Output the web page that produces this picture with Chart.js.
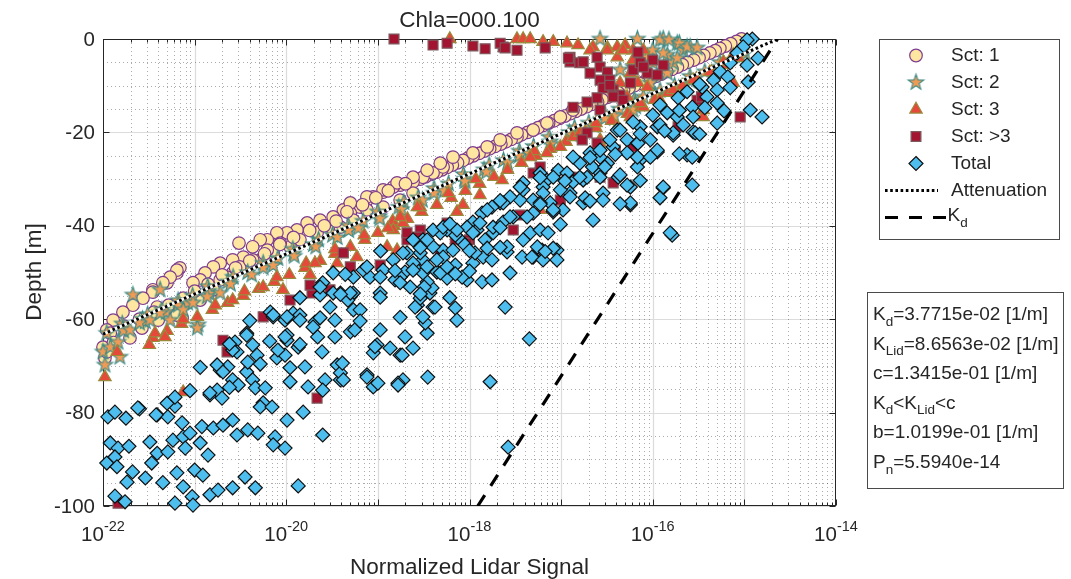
<!DOCTYPE html>
<html><head><meta charset="utf-8">
<script src="https://cdn.jsdelivr.net/npm/chart.js@4/dist/chart.umd.min.js"></script>
<style>html,body{margin:0;padding:0;background:#fff;}#wrap{width:1071px;height:579px;}</style>
</head><body><div id="wrap"><canvas id="c" width="1071" height="579"></canvas></div>
<script>
// ---------------- data ----------------
const chartTitle = 'Chla=000.100';
const xAxisTitle = 'Normalized Lidar Signal';
const yAxisTitle = 'Depth [m]';
const xTickExponents = [-22, -20, -18, -16, -14];
const yTickValues = [0, -20, -40, -60, -80, -100];
const legendLabels = ['Sct: 1', 'Sct: 2', 'Sct: 3', 'Sct: >3', 'Total', 'Attenuation', 'K_d'];

// [signal, depth]
const sct1 = [
[9.3e-16,0],[8.2e-16,-0.5],[7.1e-16,-1],[6.2e-16,-1.5],[5.4e-16,-2],[4.8e-16,-2.5],[4.2e-16,-3],[3.6e-16,-3.5],[3.2e-16,-4],[2.8e-16,-4.5],[2.4e-16,-5],[2.1e-16,-5.5],[1.86e-16,-6],[1.62e-16,-6.5],[1.42e-16,-7],[1.24e-16,-7.5],[1.08e-16,-8],[9.5e-17,-8.5],[8.3e-17,-9],[7.2e-17,-9.5],[6.3e-17,-10],[5.5e-17,-10.5],[4.8e-17,-11],[4.2e-17,-11.5],[3.7e-17,-12],[3.2e-17,-12.5],[2.8e-17,-13],[2.5e-17,-13.5],[2.15e-17,-14],[1.9e-17,-14.5],[1.65e-17,-15],[1.44e-17,-15.5],[1.26e-17,-16],[1.1e-17,-16.5],[9.6e-18,-17],[8.4e-18,-17.5],[7.3e-18,-18],[6.4e-18,-18.5],[5.6e-18,-19],[4.9e-18,-19.5],[4.3e-18,-20],[3.7e-18,-20.5],[3.3e-18,-21],[2.85e-18,-21.5],[2.5e-18,-22],[2.2e-18,-22.5],[1.9e-18,-23],[1.66e-18,-23.5],[1.45e-18,-24],[1.27e-18,-24.5],[1.1e-18,-25],[9.6e-19,-25.5],[8.5e-19,-26],[7.4e-19,-26.5],[6.5e-19,-27],[5.7e-19,-27.5],[5.0e-19,-28],[4.4e-19,-28.5],[3.8e-19,-29],[3.3e-19,-29.5],[2.9e-19,-30],
[5.15e-19,-27.4],[4.0e-19,-28.7],[3.1e-19,-29.6],[2.42e-19,-30.6],[1.75e-19,-31.3],[1.47e-19,-31.7],[1.14e-19,-32.8],[8.9e-20,-33.8],[7.6e-20,-34.5],[6.4e-20,-36],[5.0e-20,-37.3],[4.2e-20,-36.6],[3.25e-20,-38.1],[2.34e-20,-38.8],[1.69e-20,-39.4],[1.31e-20,-40.9],[1.02e-20,-41.5],[7.9e-21,-41.5],[6.2e-21,-43],[5.2e-21,-43],[4.3e-21,-44.5],[3.05e-21,-43.7],[3.4e-21,-46.7],[2.6e-21,-47.3],[1.9e-21,-48],[1.6e-21,-48.8],[1.3e-21,-50.1],[1.15e-21,-51.6],[9.6e-22,-52.2],[6.9e-22,-49],[6.4e-22,-50.1],[5.0e-22,-52.2],[3.5e-22,-53.7],[7.6e-20,-36.6],[1.14e-19,-36],[1.75e-19,-34.5],[2.42e-19,-33],[3.25e-20,-40.9],[2.17e-20,-41.5],[1.41e-20,-43],[3.9e-20,-40.3],[5.4e-20,-38.8],[1.1e-20,-44.5],[7.2e-21,-45.8],[5.2e-21,-47.3],[3.7e-21,-48.8],[2.6e-21,-50.1],[1.9e-21,-51.6],[6.4e-22,-49.5],[5.4e-22,-51],[4.5e-22,-52.2],[3.5e-22,-54.2],[2.73e-22,-55.5],[2.12e-22,-57],[1.65e-22,-58.5],[1.29e-22,-60.2],[1.1e-22,-62.3],[1.05e-22,-68.3],[1.0e-22,-66],[1.97e-22,-64],[2.66e-22,-61.9],[4.0e-22,-60.2],[7.3e-22,-59.7],[6.9e-22,-58],[1.15e-21,-55.9],[1.6e-21,-53.7],[2.26e-21,-51],[3.1e-21,-48.8],[4.3e-21,-47.3],[6.2e-21,-45.2],[8.6e-21,-43.7],[6.4e-22,-59.1],[3.9e-22,-57.4],[5.0e-20,-35.1],[7.6e-20,-33.8],[1.14e-19,-32.3],[1.62e-19,-30.8],[2.42e-19,-29.6],[3.45e-19,-28.1],[4.8e-19,-26.6],[6.6e-19,-25.3],[1.09e-18,-24.4],[1.56e-18,-23.1],[2.16e-18,-21.6],[3.3e-18,-20.1],[4.95e-18,-19.5],[7.0e-18,-18],[9.8e-18,-16.7],[1.35e-17,-15.2],
[2.0e-19,-31],[1.3e-19,-32.5],[9.5e-20,-34],[6.8e-20,-35.5],[4.6e-20,-37],[3.5e-20,-39],[2.6e-20,-40],[1.8e-20,-41],[1.2e-20,-42.5],[8.5e-21,-44],[5.8e-21,-46],[4.0e-21,-47.5],[2.8e-21,-49],[2.0e-21,-50.5],[1.4e-21,-52.5],[1.0e-21,-54],[7.5e-22,-55.5],[5.2e-22,-57],[3.6e-22,-58.5],[2.5e-22,-60],[1.7e-22,-61.5],[1.2e-22,-63],[1.3e-22,-65],[1.1e-22,-67]
];

const sct2 = [
[1.02e-15,-3],[9.0e-16,-4],[5.4e-16,-5],[5.5e-16,-6],[3.7e-16,-7],[2.55e-16,-8],[2.56e-16,-9],[1.73e-16,-10],[1.2e-16,-11],[1.06e-16,-12],[6.3e-17,-13],[6.4e-17,-14],[4.3e-17,-15],[3.0e-17,-16],[3.0e-17,-17],[2.0e-17,-18],[1.4e-17,-19],[1.23e-17,-20],[7.4e-18,-21],[7.6e-18,-22],[5.0e-18,-23],[3.5e-18,-24],[3.5e-18,-25],[2.35e-18,-26],[1.64e-18,-27],[1.44e-18,-28],[8.6e-19,-29],[8.8e-19,-30],[5.9e-19,-31],[4.1e-19,-32],[4.1e-19,-33],[2.75e-19,-34],[1.92e-19,-35],[1.69e-19,-36],[1.0e-19,-37],[1.03e-19,-38],[6.9e-20,-39],[4.75e-20,-40],[4.8e-20,-41],[3.2e-20,-42],[2.25e-20,-43],[1.98e-20,-44],[1.18e-20,-45],[1.2e-20,-46],[8.1e-21,-47],[5.6e-21,-48],[5.6e-21,-49],[3.8e-21,-50],[2.63e-21,-51],[2.3e-21,-52],[1.39e-21,-53],[1.42e-21,-54],[9.5e-22,-55],[6.6e-22,-56],[6.6e-22,-57],[4.4e-22,-58],[3.07e-22,-59],[2.7e-22,-60],[1.62e-22,-61],[1.64e-22,-62],[1.1e-22,-63],
[1.92e-16,-10.5],[1.13e-16,-12.5],[6.5e-17,-14.5],[3.8e-17,-16.5],[2.24e-17,-18.5],[1.31e-17,-20.5],[7.7e-18,-22.5],[4.5e-18,-24.5],[2.6e-18,-26.5],[1.53e-18,-28.5],[8.9e-19,-30.5],[5.3e-19,-32.5],[3.06e-19,-34.5],[1.8e-19,-36.5],[1.05e-19,-38.5],[6.1e-20,-40.5],[3.6e-20,-42.5],[2.1e-20,-44.5],[1.22e-20,-46.5],[7.2e-21,-48.5],[4.2e-21,-50.5],[2.46e-21,-52.5],[1.44e-21,-54.5],[8.4e-22,-56.5],[4.9e-22,-58.5],[2.9e-22,-60.5],[1.68e-22,-62.5],
[1.0e-22,-67],[1.2e-22,-66],[1.46e-22,-64.9],[1.97e-22,-62.3],[2.5e-22,-60.8],[3.25e-22,-60.2],[4.2e-22,-58.7],[5.4e-22,-60.2],[7.5e-22,-58],[1.09e-21,-61.2],[9.6e-22,-56.5],[1.37e-21,-55.2],[1.9e-21,-54.4],[2.12e-22,-54.8],[4.2e-22,-53.7],[1.07e-21,-61.9],[1.05e-22,-69.8],[1.53e-22,-68.1],
[2.66e-17,0],[6.8e-17,0],[1.3e-16,0],[1.85e-16,-0.9],[2.15e-16,-2.4],[2.56e-16,-1.7],[1.0e-16,-2.4],[8.7e-17,-3.9],[1.44e-16,-3.4],[1.67e-16,-5.1],[6.1e-17,-6],[4.4e-17,-6.6],[1.2e-16,-0.2],[1.5e-16,-0.2],[1.95e-16,-0.9],[2.37e-16,-1.7],[3.05e-16,-1.9],[1.3e-16,-3],[1.85e-16,-4.1],[1.0e-16,-5.1],[1.44e-16,-7.3],[9.4e-17,-9.4],[7.9e-17,-12.4],[6.1e-17,-15.2]
];

const sct3 = [
[8.6e-16,-4],[6.3e-16,-5.5],[4.4e-16,-7],[3.0e-16,-8.5],[2.1e-16,-10],[1.47e-16,-11.5],[1.05e-16,-13],[7.5e-17,-14.5],[5.3e-17,-16],[3.55e-17,-17.5],[2.4e-17,-19],[1.6e-17,-20.5],[1.13e-17,-22],[7.6e-18,-23.5],[5.3e-18,-25],[3.7e-18,-26.5],[2.6e-18,-28],[1.85e-18,-29.5],[1.29e-18,-31],[9.0e-19,-32.5],[6.3e-19,-34],[4.4e-19,-35.5],[3.0e-19,-37],[2.1e-19,-38.5],[1.5e-19,-40],[1.0e-19,-41.5],[7.2e-20,-43],[5.0e-20,-44.5],[3.4e-20,-46],[2.35e-20,-47.5],[1.6e-20,-49],[1.08e-20,-50.5],[7.4e-21,-52],[5.0e-21,-53.5],[3.4e-21,-55],[2.3e-21,-56.5],[1.56e-21,-58],[1.07e-21,-59.5],[7.2e-22,-61],[5.0e-22,-62.5],[3.5e-22,-64],[3.2e-22,-65.5],[1.43e-22,-67],
[2.4e-17,-18],[5.1e-18,-24],[1.17e-18,-30],[2.9e-19,-36],[7.1e-20,-42],[1.65e-20,-48],[3.5e-21,-54],[7.5e-22,-60],[5.9e-19,-33],[1.45e-19,-39],[3.4e-20,-45],[7.9e-21,-51],[1.68e-21,-57],[3.7e-22,-63],
[1.05e-22,-72.4],[7.5e-22,-75.6],[4.75e-22,-63.8],[2.6e-21,-55.9],[1.82e-20,-50.5],[2.06e-20,-48],[3.6e-20,-48],[5.9e-20,-46.7],[1.26e-19,-44.5],[1.88e-19,-39.4],[1.62e-19,-45.2],[1.47e-19,-40.9],[9.2e-21,-53.7],[5.6e-21,-53.1],[2.27e-18,-30.2],[1.3e-18,-33.4],[8.5e-19,-35.5],[5.9e-18,-36.6],[1.29e-19,-40.5],[1.75e-19,-38.1],[7.3e-19,-37],[2.7e-19,-36],[4.6e-18,-25.3],[7.0e-18,-24.4],[9.8e-18,-23.1],[1.35e-17,-21],[1.6e-17,-20.1],[1.83e-17,-19.9],[2.66e-17,-22.3],[4.1e-17,-18.8],[5.7e-17,-16.7],[7.9e-17,-14.6],[1.2e-16,-13.1],[1.67e-16,-10.9],[2.76e-16,-8.8],[4.2e-16,-7.1],[5.9e-16,-4.9],[7.55e-16,-3.4],[9.7e-16,-1.7],[7.55e-16,-9.4],[3.55e-16,-15.2],[2.47e-17,-23.3],
[6.1e-19,0],[3.3e-18,0],[3.85e-18,0],[4.6e-18,0],[6.35e-18,-0.6],[8.2e-18,-0.6],[1.16e-17,-0.9],[1.53e-17,-1.3],[2.23e-17,-1.7],[3.2e-17,-1.9],[4.1e-17,-1.7],[5.0e-17,-1.3],[6.1e-17,-2.4],[7.9e-17,-2.4],
[2.07e-17,-2.4],[3.2e-17,-2.4],[4.1e-17,-3.9],[4.75e-17,-2.4],[6.1e-17,-4.5],[7.3e-17,-5.1],[5.7e-17,-7.3],[6.9e-17,-9.4],[4.4e-17,-9.4],[5.25e-17,-12.4],[7.3e-17,-13.7],[8.7e-17,-10.3],[2.66e-17,-21.6],[3.55e-16,-16.7]
];

const sctMore = [
[1.5e-19,0],[4.0e-19,-1.3],[5.7e-19,-0.9],[1.09e-18,-1.5],[1.48e-18,-2.1],[2.33e-18,-1.7],[3.3e-18,-2.4],[6.7e-18,-1.9],[1.25e-17,-3.9],[1.25e-17,-4.9],[1.6e-17,-5.1],[2.16e-18,-0.9],[2.45e-18,-1.9],[1.2e-17,-4.1],[2.47e-17,-3.9],[2.66e-17,-6],[3.2e-17,-7.1],[2.66e-17,-8.8],[3.4e-17,-8.8],[2.87e-17,-10.5],[3.7e-17,-10.9],[4.4e-17,-12],[5.7e-17,-9.4],[6.1e-17,-6.6],[7.3e-17,-5.1],[8.7e-17,-7.3],[1.0e-16,-4.5],[1.3e-16,-5.6],[1.35e-17,-14.6],[9.0e-16,-16.7],[3.05e-16,-13.1],[1.92e-17,-20.1],[2.47e-17,-22.3],[1.25e-17,-29.6],[1.74e-17,-4.9],[3.4e-17,-9.9],[3.7e-17,-12.4],[2.47e-17,-12.6],[1.92e-17,-13.5],[4.75e-17,-13.1],[2.07e-17,-7.3],[6.9e-17,-2.8],[1.12e-16,-7.7],[7.9e-17,-6],[1.89e-16,-18.8],[3.4e-16,-12.4],[1.7e-17,-21.6],[2.66e-17,-29.6],[3.7e-17,-30.8],[6.1e-17,-23.1],
[2.04e-21,-64.5],[5.6e-21,-59.5],[1.91e-20,-54.4],[1.82e-20,-52.7],[2.08e-19,-43],[2.9e-19,-40.9],[5.7e-19,-39.4],[2.08e-19,-41.5],[2.7e-19,-42.4],[1.0e-18,-43],[3.0e-18,-40.9],[4.95e-18,-28.7],[5.9e-18,-27.4],[1.5e-17,-29.6],[5.0e-20,-48.8],[1.06e-19,-48.4],[4.8e-19,-45.2],[9.4e-19,-43.7],[2.26e-21,-67],[4.2e-20,-45.8],[1.46e-22,-99.4],[2.17e-20,-76.9],
[7.0e-19,-43],[3.57e-18,-37.7],[9.8e-18,-34.5],[3.0e-20,-53.7],[1.1e-20,-55.9],[2.66e-17,-15.2],[3.9e-17,-23.8]
];

const total = [
[1.13e-22,-80.9],[1.35e-22,-79.9],[1.78e-22,-81.2],[2.5e-22,-79.2],[3.9e-22,-80.5],[5.1e-22,-80.9],[6.1e-22,-78.6],[1.2e-22,-86.5],[1.46e-22,-87.6],[1.92e-22,-87.2],[1.1e-22,-90.8],[1.35e-22,-89.5],[1.42e-22,-91.6],[2.1e-22,-92.7],[1.83e-22,-94.9],[1.35e-22,-97.9],[1.74e-22,-99.1],[2.9e-22,-94],[3.25e-22,-86.3],[3.4e-22,-90.8],[3.9e-22,-88.7],[4.5e-22,-95],[5.1e-22,-88.4],[5.8e-22,-85.9],[6.4e-22,-92.9],[6.1e-22,-99.4],[7.3e-22,-82.2],[7.5e-22,-85.2],[7.5e-22,-95.9],[7.9e-22,-87.6],[8.9e-22,-84.4],[9.4e-22,-98],[9.6e-22,-99.8],[1.0e-21,-92.3],[1.2e-21,-83],[1.15e-21,-86.5],[1.23e-21,-93.4],[1.4e-21,-89.1],[1.47e-21,-97.6],[1.6e-21,-83.3],[1.8e-21,-96.6],[2.04e-21,-82.7],[2.6e-21,-81.6],[2.9e-21,-84.8],[2.6e-21,-96.1],[3.55e-21,-93.8],[3.8e-21,-83.7],[4.6e-21,-96.1],[4.9e-21,-84.4],[7.55e-21,-85.2],[7.2e-21,-86.9],[9.7e-21,-87.6],[1.02e-20,-81.6],[1.53e-20,-79.9],[1.35e-20,-95.7],[2.5e-20,-84.8],
[1.47e-21,-76.2],[1.76e-21,-75.2],[1.99e-21,-76.9],[1.9e-21,-70.9],[2.3e-21,-70.2],[2.6e-21,-73],[3.0e-21,-74.1],[3.7e-21,-71.3],[3.8e-21,-69.2],[4.3e-21,-73],[4.6e-21,-74.7],[5.9e-21,-74.7],[5.6e-21,-77.9],[5.2e-21,-78.8],[7.0e-21,-78.8],[2.76e-21,-64.9],[3.7e-21,-63],[2.9e-21,-67],[4.8e-21,-67.7],[7.9e-21,-68.3],[9.7e-21,-67.7],[8.1e-21,-66.6],[1.02e-20,-63.4],[9.7e-21,-60.2],[1.19e-20,-58.7],[7.2e-21,-59.5],[6.7e-21,-58.5],[1.02e-20,-64.5],[1.35e-20,-66],[1.41e-20,-59.1],[1.6e-20,-70.2],[1.73e-20,-74.5],[1.1e-20,-73.4],[2.06e-20,-60.6],[2.2e-20,-63.8],[2.46e-20,-67],[2.65e-20,-73],[2.5e-20,-75.2],[3.6e-20,-69.8],[3.9e-20,-73],[3.4e-20,-63.8],[5.0e-20,-62.7],[5.4e-20,-58],[5.0e-20,-55.2],[7.6e-20,-71.9],[8.9e-20,-74.5],[1.06e-19,-62.3],[9.8e-20,-65.5],[1.36e-19,-66.2],[1.75e-19,-67.7],[1.88e-19,-73],[1.66e-19,-73.7],[2.42e-19,-66.2],[1.98e-19,-63.8],[3.5e-19,-72.4],[3.45e-19,-63],[2.7e-19,-57],[3.7e-19,-54.4],[4.0e-19,-57.4],
[2.4e-22,-79],[5.0e-22,-78],[6.1e-22,-76.7],[3.8e-22,-80.5],[1.47e-21,-75.8],[1.76e-21,-69.8],[2.04e-21,-71.3],[2.6e-21,-66.6],[3.7e-21,-63.4],[4.3e-21,-65.5],[7.2e-21,-59.1],[1.02e-20,-59.5],[1.41e-20,-60.2],[9.7e-21,-63.8],[1.96e-20,-61.7],[2.5e-20,-52.2],[3.0e-20,-57.4],[3.4e-20,-60.2],[2.34e-20,-54.8],[3.9e-20,-54.4],[3.9e-20,-71.5],
[5.15e-19,-45.2],[3.1e-19,-47.3],[2.55e-19,-49],[1.98e-19,-49.9],[1.75e-19,-51],[1.54e-19,-51.6],[1.14e-19,-49.5],[6.9e-20,-49.5],[8.2e-20,-51],[5.4e-20,-54.4],[4.7e-20,-55.9],[6.4e-20,-58],[5.6e-20,-62.3],[4.2e-20,-73],[4.1e-20,-69.4],[7.6e-20,-72.4],[1.0e-19,-73.7],[8.9e-20,-67.2],[9.3e-20,-65.9],[1.84e-19,-67.7],[1.66e-19,-74.1],[3.3e-19,-60.8],[3.1e-19,-59.5],[2.55e-19,-57.4],[2.9e-19,-55.5],[4.2e-19,-57.4],[3.9e-19,-53.3],[3.45e-19,-52],[4.4e-19,-49.9],[5.7e-19,-51.2],[7.0e-19,-48.4],[7.0e-19,-57.6],[7.3e-19,-60.2],[9.4e-19,-51.6],[8.3e-19,-51],[1.09e-18,-48],[1.41e-18,-46.7],[1.76e-18,-47.3],[1.37e-18,-52],[1.76e-18,-51.6],[2.57e-18,-45.6],[2.77e-18,-50.1],[2.45e-18,-57.4],[3.75e-18,-46.7],[4.95e-18,-46.7],[6.2e-18,-45.2],[9.0e-18,-45.2],[4.5e-18,-64.2],[1.68e-18,-73.4],[2.64e-18,-87.4],
[1.22e-15,0],[1.07e-15,-0.2],[9.7e-16,-1.7],[8.3e-16,-3],[1.41e-15,-4.1],[7.0e-16,-5.1],[1.07e-15,-5.6],[5.45e-16,-7],[6.6e-16,-8.1],[4.6e-16,-8.8],[1.1e-15,-9.2],[3.46e-16,-10.3],[5.05e-16,-10.9],[2.37e-16,-11.3],[3.9e-16,-12.4],[1.89e-16,-12.6],[5.05e-16,-13.7],[2.7e-16,-14.6],[1.16e-15,-15.2],[1.56e-15,-16.7],[1.2e-16,-14.1],[1.44e-16,-15.8],[1.85e-16,-16.7],[1.0e-16,-16.3],[2.76e-16,-16.7],[2.15e-16,-18.4],[2.76e-16,-19.9],[1.67e-16,-20.6],[1.12e-16,-18.8],[9.4e-17,-21.6],[7.3e-17,-18.8],[6.1e-17,-17.8],[4.1e-17,-19.5],[5.25e-17,-21.6],[3.7e-17,-23.1],[6.8e-17,-22.3],[5.25e-17,-24.4],[7.3e-17,-25.9],[1.12e-16,-24.2],[6.8e-17,-27.4],[2.37e-16,-24.8],[2.7e-16,-31.3],[1.3e-16,-31.9],[1.2e-16,-34],[5.7e-17,-31.7],[5.7e-17,-35.5],[1.63e-16,-42],[4.2e-17,-29.6],[3.2e-17,-26.6],[2.66e-17,-25.3],[2.66e-17,-28.7],[2.07e-17,-24.4],[2.2e-17,-27.4],[1.6e-17,-26.6],[1.35e-17,-25.3],[1.74e-17,-30.2],[1.35e-17,-30.6],[2.87e-17,-33],[1.74e-17,-35.1],[2.23e-17,-38.8],[1.25e-17,-33],[9.8e-18,-32.3],[1.05e-17,-36.6],[8.2e-18,-37],[7.6e-18,-35.1],[7.0e-18,-30.2],[5.9e-18,-28.7],[9.3e-18,-28.1],[1.16e-17,-28.7],[6.35e-18,-31.7],[4.95e-18,-37.3],[4.6e-18,-41.5],[3.85e-18,-30.8],[3.57e-18,-34.5],[3.85e-18,-32.3],[2.77e-18,-33.8],[2.16e-18,-35.1],[1.76e-18,-36],[3.0e-18,-38.1],[2.33e-18,-39.2],[1.81e-18,-41.5],[1.48e-18,-43],[1.37e-18,-37.3],[1.09e-18,-39.2],[1.21e-18,-40.9],[9.4e-19,-40.3],[7.9e-19,-43],[7.0e-19,-42],[5.7e-19,-40.9],[6.6e-19,-45.2],[5.15e-19,-46.7],[4.0e-19,-44.5],[3.1e-19,-43],[2.9e-19,-45.8],[2.42e-19,-48],[2.08e-19,-45.8],[2.25e-19,-53.1],[3.1e-19,-50.1],[4.8e-19,-50.1],[5.7e-19,-48.8],[8.9e-19,-44.1],[1.15e-18,-45.8],[1.56e-18,-44.8],[2.57e-18,-44.5],[3.85e-18,-43],[4.8e-18,-46.7],[5.5e-18,-44.5],[8.2e-18,-44.8],[6.35e-18,-47.3],[9.0e-18,-47.3],[5.9e-18,-40.9],[7.2e-18,-41.5],[3.2e-19,-53.1],
[1.55e-16,-41.5],[1.3e-16,-31.7],[2.7e-16,-25.3],[5.7e-17,-35.1],[6.8e-17,-25.3],[5.05e-16,-18],[2.9e-16,-20.1],[1.67e-16,-20.1],[1.2e-16,-18.4],[1.12e-16,-23.8],[6.9e-17,-22.3],[4.4e-17,-19.5],[3.4e-17,-21.6],[2.66e-17,-23.8],[1.92e-17,-29.6],[3.0e-17,-27.4],[4.4e-17,-29.1],[5.25e-17,-31.3],[2.87e-17,-34.5],[1.83e-17,-34],
[8.2e-18,-29.6],[6.35e-18,-33],[4.95e-18,-34.5],[3.57e-18,-31.7],[2.33e-18,-35.1],[1.56e-18,-36.6],[1.3e-18,-39.4],[1.09e-18,-41.5],[7.3e-19,-40.9],[4.8e-19,-41.5],[3.45e-19,-43],[1.81e-18,-40.3],[2.77e-18,-38.1],[4.25e-18,-38.1],[5.9e-18,-35.1],[8.2e-18,-36.6],[1.25e-17,-33.8],[1.6e-17,-29.6],
[2.34e-20,-53.1],[3.25e-20,-54.4],[5.4e-20,-51],[7.6e-20,-48.8],[1.06e-19,-51],[1.47e-19,-47.3],[1.88e-19,-45.8],[2.42e-19,-43],[4.0e-19,-40.9],[5.15e-19,-40.3],[3.45e-19,-48.8],[4.4e-19,-47.3],[2.42e-19,-49.5],[1.75e-19,-52.2],[1.06e-19,-54.4],[5.0e-20,-54.4],[3.25e-20,-50.1],
[4.4e-20,-50.4],[1.54e-19,-49.6],[7.0e-19,-50.3],[1.0e-18,-49.7],[1.07e-19,-45.4],[2.9e-19,-44.7],[1.0e-18,-45.3],[2.16e-18,-44.6],[6.7e-18,-45.5],[6.1e-19,-39.6],[2.16e-18,-40.4],[9.8e-18,-39.7],[2.16e-18,-34.6],[5.9e-18,-35.4],[2.07e-17,-34.7],[4.4e-17,-35.3],[5.9e-18,-29.7],[1.1e-17,-30.4],[2.66e-17,-29.6],[7.3e-17,-30.3],[2.07e-17,-25.4],[3.9e-17,-24.7],[9.4e-17,-25.3],[1.95e-16,-24.6],[7.3e-17,-20.3],[1.35e-16,-19.7],[3.25e-16,-20.4],[1.95e-16,-15.3],[3.7e-16,-14.7],[6.0e-16,-15.4],[3.25e-16,-9.7],[7.0e-16,-10.4],[1.41e-20,-55.4],[3.9e-20,-54.7],[1.06e-19,-55.3],[2.9e-19,-54.6],[6.1e-19,-55.4],[4.0e-21,-60.3],[2.34e-20,-59.7],[6.4e-20,-60.4],[1.75e-19,-59.6],[2.4e-21,-65.3],[6.6e-21,-64.7],[1.41e-20,-65.4],[1.15e-21,-70.3],[5.2e-21,-69.6],[1.1e-20,-70.4],[8.9e-22,-75.3],[2.4e-21,-74.6]
];

const attenuation = [[1e-22, -63.2], [2.3e-15, 0]];
const kdLine = [[1.23e-18, -100], [2.3e-15, 0]];

const infoLines = [
  [['K'], ['d', 'sub'], ['=3.7715e-02 [1/m]']],
  [['K'], ['Lid', 'sub'], ['=8.6563e-02 [1/m]']],
  [['c=1.3415e-01 [1/m]']],
  [['K'], ['d', 'sub'], ['<K'], ['Lid', 'sub'], ['<c']],
  [['b=1.0199e-01 [1/m]']],
  [['P'], ['n', 'sub'], ['=5.5940e-14']]
];

// ---------------- styles ----------------
const FONT = '"Liberation Sans", Arial, Helvetica, sans-serif';
const INK = '#262626';
const st = {
  c1: { fill: '#FFE6A1', edge: '#7E3C8E' },
  c2: { fill: '#EF9A55', edge: '#3B8C88' },
  c3: { fill: '#E5493A', edge: '#9A8A3C' },
  c4: { fill: '#A2142F', edge: '#7D5A5E' },
  c5: { fill: '#4DBEEE', edge: '#111111' }
};

function makeStar(R, fill, edge) {
  const s = Math.ceil(R * 2 + 4);
  const cv = document.createElement('canvas');
  cv.width = s; cv.height = s;
  const g = cv.getContext('2d');
  g.beginPath();
  for (let i = 0; i < 10; i++) {
    const r = i % 2 ? R * 0.40 : R;
    const a = -Math.PI / 2 + i * Math.PI / 5;
    g.lineTo(s / 2 + r * Math.cos(a), s / 2 + r * Math.sin(a));
  }
  g.closePath();
  g.fillStyle = fill; g.fill();
  g.lineWidth = 1.1; g.strokeStyle = edge; g.stroke();
  return cv;
}
const starImg = makeStar(8.2, st.c2.fill, st.c2.edge);

const toXY = arr => arr.map(p => ({ x: p[0], y: p[1] }));

function scatterSet(label, arr, style, shape, r, order) {
  return {
    label, data: toXY(arr), order, clip: false,
    pointStyle: shape, pointRadius: r, pointHoverRadius: r,
    backgroundColor: style.fill, borderColor: style.edge, pointBorderWidth: 1.2, borderWidth: 1.2,
    showLine: false
  };
}

// ---------------- drawing helpers ----------------
function drawParts(ctx, x, y, parts, size, subSize, drop) {
  let cx = x;
  for (const p of parts) {
    const sub = p[1] === 'sub';
    ctx.font = (sub ? subSize : size) + 'px ' + FONT;
    ctx.fillText(p[0], cx, y + (sub ? drop : 0));
    cx += ctx.measureText(p[0]).width;
  }
}

function legendMarker(ctx, kind, x, y) {
  ctx.save();
  ctx.lineWidth = 1.2;
  if (kind === 'star') { ctx.drawImage(starImg, x - starImg.width / 2, y - starImg.height / 2); ctx.restore(); return; }
  ctx.beginPath();
  let s;
  if (kind === 'circle') { s = st.c1; ctx.arc(x, y, 6.3, 0, Math.PI * 2); }
  if (kind === 'triangle') { s = st.c3; const r = 7.2; ctx.moveTo(x, y - r); ctx.lineTo(x + r * Math.sin(2.0944), y - r * Math.cos(2.0944)); ctx.lineTo(x + r * Math.sin(4.1888), y - r * Math.cos(4.1888)); ctx.closePath(); }
  if (kind === 'square') { s = st.c4; const h = 4.9; ctx.rect(x - h, y - h, 2 * h, 2 * h); }
  if (kind === 'diamond') { s = st.c5; const r = 7; ctx.moveTo(x, y - r); ctx.lineTo(x + r, y); ctx.lineTo(x, y + r); ctx.lineTo(x - r, y); ctx.closePath(); }
  ctx.fillStyle = s.fill; ctx.fill(); ctx.strokeStyle = s.edge; ctx.stroke();
  ctx.restore();
}

const axesPlugin = {
  id: 'matlabAxes',
  beforeDatasetsDraw(chart) {
    const { ctx, chartArea: a, scales } = chart;
    const xs = scales.x, ys = scales.y;
    ctx.save();
    ctx.setLineDash([1, 3]); ctx.lineWidth = 1; ctx.strokeStyle = 'rgba(38,38,38,0.38)';
    ctx.beginPath();
    for (let e = -22; e < -14; e++) for (let m = 2; m <= 9; m++) {
      const px = Math.round(xs.getPixelForValue(m * Math.pow(10, e))) + 0.5;
      ctx.moveTo(px, a.top); ctx.lineTo(px, a.bottom);
    }
    for (let v = -95; v < 0; v += 5) if (v % 20 !== 0) {
      const py = Math.round(ys.getPixelForValue(v)) + 0.5;
      ctx.moveTo(a.left, py); ctx.lineTo(a.right, py);
    }
    ctx.stroke();
    ctx.setLineDash([]); ctx.strokeStyle = 'rgba(38,38,38,0.16)'; ctx.lineWidth = 1.2;
    ctx.beginPath();
    for (let e = -21; e < -14; e++) {
      const px = Math.round(xs.getPixelForValue(Math.pow(10, e))) + 0.5;
      ctx.moveTo(px, a.top); ctx.lineTo(px, a.bottom);
    }
    for (const v of yTickValues) {
      const py = Math.round(ys.getPixelForValue(v)) + 0.5;
      ctx.moveTo(a.left, py); ctx.lineTo(a.right, py);
    }
    ctx.stroke();
    ctx.strokeStyle = INK; ctx.lineWidth = 1;
    const L = Math.round(a.left) + 0.5, R = Math.round(a.right) - 0.5, T = Math.round(a.top) + 0.5, B = Math.round(a.bottom) - 0.5;
    ctx.strokeRect(L, T, R - L, B - T);
    ctx.beginPath();
    for (let e = -22; e <= -14; e++) {
      const px = Math.round(xs.getPixelForValue(Math.pow(10, e))) + 0.5;
      ctx.moveTo(px, B); ctx.lineTo(px, B - 6); ctx.moveTo(px, T); ctx.lineTo(px, T + 6);
      if (e < -14) for (let m = 2; m <= 9; m++) {
        const q = Math.round(xs.getPixelForValue(m * Math.pow(10, e))) + 0.5;
        ctx.moveTo(q, B); ctx.lineTo(q, B - 3); ctx.moveTo(q, T); ctx.lineTo(q, T + 3);
      }
    }
    for (const v of yTickValues) {
      const py = Math.round(ys.getPixelForValue(v)) + 0.5;
      ctx.moveTo(L, py); ctx.lineTo(L + 6, py); ctx.moveTo(R, py); ctx.lineTo(R - 6, py);
    }
    ctx.stroke();
    ctx.restore();
  },
  afterDraw(chart) {
    const { ctx, chartArea: a, scales } = chart;
    const xs = scales.x, ys = scales.y;
    ctx.save();
    ctx.fillStyle = INK;
    ctx.font = '20.5px ' + FONT; ctx.textAlign = 'right'; ctx.textBaseline = 'middle';
    for (const v of yTickValues) ctx.fillText(String(v), a.left - 8, ys.getPixelForValue(v) + 1);
    ctx.textAlign = 'left'; ctx.textBaseline = 'alphabetic';
    for (const e of xTickExponents) {
      const px = xs.getPixelForValue(Math.pow(10, e));
      ctx.font = '20.5px ' + FONT; const w1 = ctx.measureText('10').width;
      ctx.font = '14.5px ' + FONT; const w2 = ctx.measureText(String(e)).width;
      const x0 = px - (w1 + w2) / 2;
      ctx.font = '20.5px ' + FONT; ctx.fillText('10', x0, 541);
      ctx.font = '14.5px ' + FONT; ctx.fillText(String(e), x0 + w1, 531);
    }
    ctx.textAlign = 'center';
    ctx.font = '22.5px ' + FONT;
    ctx.fillText(chartTitle, (a.left + a.right) / 2, 27);
    ctx.fillText(xAxisTitle, (a.left + a.right) / 2, 574);
    ctx.save(); ctx.translate(41, 272); ctx.rotate(-Math.PI / 2); ctx.fillText(yAxisTitle, 0, 0); ctx.restore();
    ctx.fillStyle = '#fff'; ctx.fillRect(879.5, 39.5, 180, 200);
    ctx.strokeStyle = '#4a4a4a'; ctx.lineWidth = 1; ctx.strokeRect(879.5, 39.5, 180, 200);
    const kinds = ['circle', 'star', 'triangle', 'square', 'diamond'];
    const rowY = i => 55.5 + i * 27;
    for (let i = 0; i < 5; i++) legendMarker(ctx, kinds[i], 916, rowY(i));
    ctx.save();
    ctx.strokeStyle = '#fff'; ctx.lineWidth = 3; ctx.beginPath(); ctx.moveTo(885, rowY(5)); ctx.lineTo(938, rowY(5)); ctx.stroke();
    ctx.strokeStyle = '#000'; ctx.setLineDash([2.6, 2.6]); ctx.beginPath(); ctx.moveTo(885, rowY(5)); ctx.lineTo(938, rowY(5)); ctx.stroke();
    ctx.setLineDash([13, 11]); ctx.lineWidth = 3.2; ctx.beginPath(); ctx.moveTo(885, rowY(6)); ctx.lineTo(947, rowY(6)); ctx.stroke();
    ctx.restore();
    ctx.fillStyle = INK; ctx.textAlign = 'left'; ctx.textBaseline = 'middle';
    ctx.font = '19px ' + FONT;
    for (let i = 0; i < 6; i++) ctx.fillText(legendLabels[i], 951, rowY(i));
    const kd = legendLabels[6].split('_');
    drawParts(ctx, 947.5, rowY(6) - 2, [[kd[0]], [kd[1], 'sub']], 19, 13.5, 8);
    ctx.fillStyle = '#fff'; ctx.fillRect(867.5, 292.5, 196, 196);
    ctx.strokeStyle = '#4a4a4a'; ctx.strokeRect(867.5, 292.5, 196, 196);
    ctx.fillStyle = INK; ctx.textBaseline = 'alphabetic';
    infoLines.forEach((parts, i) => drawParts(ctx, 873, 320 + i * 29.6, parts, 19, 13.5, 5.5));
    ctx.restore();
  }
};

const datasets = [
  { label: 'K_d', data: toXY(kdLine), showLine: true, pointRadius: 0, borderColor: '#000', borderWidth: 3.2, borderDash: [13, 11], order: 0, fill: false },
  { label: 'Attenuation', data: toXY(attenuation), showLine: true, pointRadius: 0, borderColor: '#000', borderWidth: 3, borderDash: [2.6, 2.6], order: 0.1, fill: false },
  { label: 'Attenuation (backing)', data: toXY(attenuation), showLine: true, pointRadius: 0, borderColor: '#ffffff', borderWidth: 3, order: 0.2, fill: false },
  scatterSet('Total', total, st.c5, 'rectRot', 7, 1),
  scatterSet('Sct: >3', sctMore, st.c4, 'rect', 7, 2),
  scatterSet('Sct: 3', sct3, st.c3, 'triangle', 7.2, 3),
  scatterSet('Sct: 2', sct2, st.c2, starImg, 8, 4),
  scatterSet('Sct: 1', sct1, st.c1, 'circle', 6.3, 5)
];

new Chart(document.getElementById('c'), {
  type: 'scatter',
  data: { datasets },
  options: {
    responsive: false, animation: false, devicePixelRatio: 1, events: [],
    layout: { padding: { left: 0, right: 235, top: 39, bottom: 0 } },
    plugins: { legend: { display: false }, tooltip: { enabled: false }, title: { display: false } },
    scales: {
      x: { type: 'logarithmic', min: 1e-22, max: 1e-14, grid: { display: false }, border: { display: false },
           ticks: { display: false }, afterFit(s) { s.height = 73; } },
      y: { type: 'linear', min: -100, max: 0, grid: { display: false }, border: { display: false },
           ticks: { display: false }, afterFit(s) { s.width = 103; } }
    }
  },
  plugins: [axesPlugin]
});
</script>
</body></html>
